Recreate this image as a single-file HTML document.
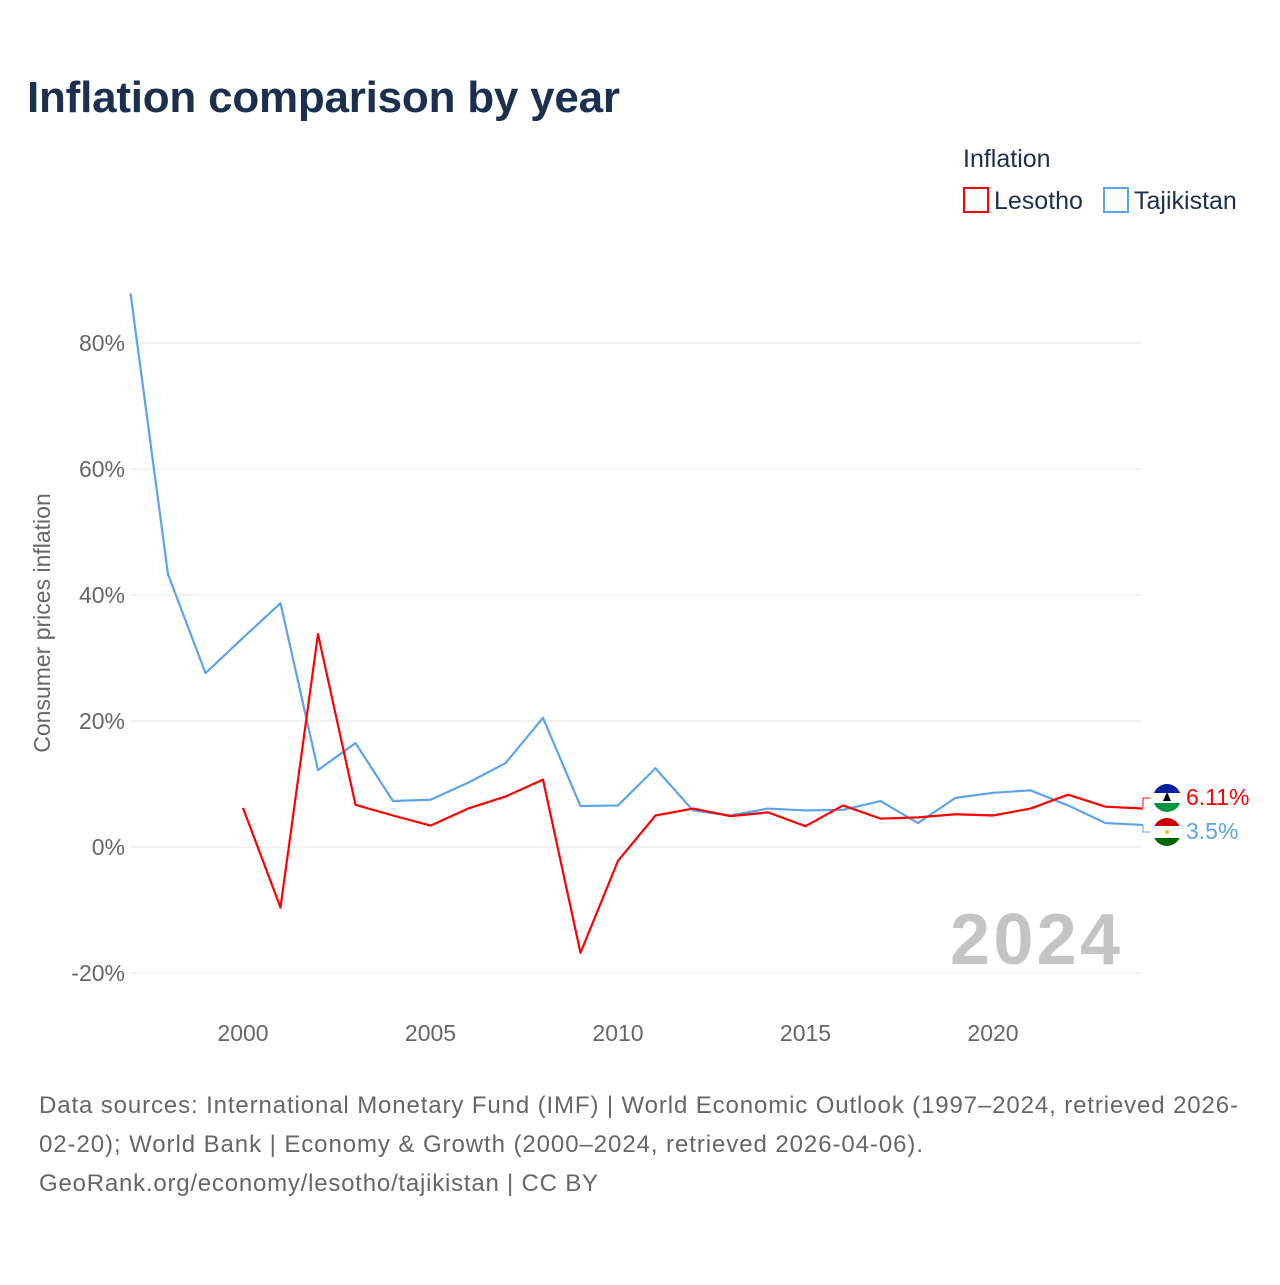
<!DOCTYPE html>
<html><head><meta charset="utf-8"><style>
body{margin:0;background:#fff;width:1280px;height:1280px;overflow:hidden;font-family:"Liberation Sans",sans-serif}
</style></head><body>
<svg width="1280" height="1280" style="font-family:'Liberation Sans',sans-serif">
<text x="27" y="112" font-size="44" font-weight="bold" fill="#1b2f4e" textLength="593">Inflation comparison by year</text>
<text x="963" y="167" font-size="25" fill="#1b2f4e">Inflation</text>
<g><rect x="964" y="188" width="24" height="24" fill="none" stroke="#f00" stroke-width="2"/><text x="994" y="209" font-size="25" fill="#1b2f4e">Lesotho</text></g>
<g><rect x="1104" y="188" width="24" height="24" fill="none" stroke="#5ba4ec" stroke-width="2"/><text x="1134" y="209" font-size="25" fill="#1b2f4e">Tajikistan</text></g>
<g id="grid"></g><g id="ylab"></g><g id="xlab"></g>
<text x="1120" y="964" font-size="72" font-weight="bold" fill="#c4c4c4" text-anchor="end" textLength="170">2024</text>
<text transform="translate(50,623) rotate(-90)" font-size="23" fill="#666" text-anchor="middle">Consumer prices inflation</text>
<g id="lines"></g>
<g><clipPath id="c1"><circle cx="1167" cy="798" r="14"/></clipPath><g clip-path="url(#c1)"><rect x="1150" y="782" width="34" height="11" fill="#00209f"/><rect x="1150" y="793" width="34" height="10" fill="#fff"/><rect x="1150" y="803" width="34" height="12" fill="#009543"/><path d="M1163 801 L1167 792 L1171 801Z" fill="#000"/></g></g>
<g><clipPath id="c2"><circle cx="1167" cy="832" r="14"/></clipPath><g clip-path="url(#c2)"><rect x="1150" y="816" width="34" height="10" fill="#cc0000"/><rect x="1150" y="826" width="34" height="12" fill="#fff"/><rect x="1150" y="838" width="34" height="12" fill="#006600"/><circle cx="1167" cy="832" r="2" fill="#f8c300"/></g></g>
<path d="M1143 807 V798 H1150" fill="none" stroke="#f00" stroke-width="1"/>
<path d="M1143 825 V832 H1150" fill="none" stroke="#5ba4ec" stroke-width="1"/>
<text x="1186" y="805" font-size="23" fill="#f00">6.11%</text>
<text x="1186" y="839" font-size="23" fill="#5ba4ec">3.5%</text>
<text font-size="24" fill="#666"><tspan x="39" y="1113" textLength="1199">Data sources: International Monetary Fund (IMF) | World Economic Outlook (1997–2024, retrieved 2026-</tspan><tspan x="39" y="1152" textLength="884">02-20); World Bank | Economy &amp; Growth (2000–2024, retrieved 2026-04-06).</tspan><tspan x="39" y="1191" textLength="559">GeoRank.org/economy/lesotho/tajikistan | CC BY</tspan></text>
</svg>
<script>
const tjYears=[1997,1998,1999,2000,2001,2002,2003,2004,2005,2006,2007,2008,2009,2010,2011,2012,2013,2014,2015,2016,2017,2018,2019,2020,2021,2022,2023,2024];
const tjValues=[87.9,43.3,27.6,33.2,38.7,12.2,16.5,7.3,7.5,10.2,13.3,20.5,6.5,6.6,12.5,5.8,5.0,6.1,5.8,5.9,7.3,3.8,7.8,8.6,9.0,6.6,3.8,3.5];
const lsYears=[2000,2001,2002,2003,2004,2005,2006,2007,2008,2009,2010,2011,2012,2013,2014,2015,2016,2017,2018,2019,2020,2021,2022,2023,2024];
const lsValues=[6.2,-9.6,33.8,6.7,5.0,3.4,6.1,8.0,10.7,-16.8,-2.2,5.0,6.1,4.9,5.5,3.3,6.6,4.5,4.7,5.2,5.0,6.1,8.3,6.4,6.11];
const yTicks=[-20,0,20,40,60,80];
const xTicks=[2000,2005,2010,2015,2020];
const X=y=>130.5+(y-1997)*37.5, Y=v=>847-v*6.3;
const NS='http://www.w3.org/2000/svg';
function mk(t,a,p){const e=document.createElementNS(NS,t);for(const k in a)e.setAttribute(k,a[k]);document.getElementById(p).appendChild(e);return e;}
yTicks.forEach(t=>{
 const l=mk('line',{x1:130,x2:1142,y1:Y(t),y2:Y(t),stroke:'#e6e6e6','stroke-width':1},'grid');
 
 
 const s=mk('text',{x:125,y:Y(t)+8,'font-size':23,fill:'#666','text-anchor':'end'},'ylab');s.textContent=t+'%';
 
 
});
xTicks.forEach(t=>{
 const s=mk('text',{x:X(t),y:1041,'font-size':23,fill:'#666','text-anchor':'middle'},'xlab');s.textContent=t;
 
 
});
function line(ys,vs,c,n){
 const p=mk('polyline',{points:ys.map((y,i)=>X(y)+','+Y(vs[i])).join(' '),fill:'none',stroke:c,'stroke-width':2.2,'stroke-linejoin':'round'},'lines');
 
 
}
line(tjYears,tjValues,'#5ba4ec','line-tajikistan');
line(lsYears,lsValues,'#ff0000','line-lesotho');
</script>
</body></html>
